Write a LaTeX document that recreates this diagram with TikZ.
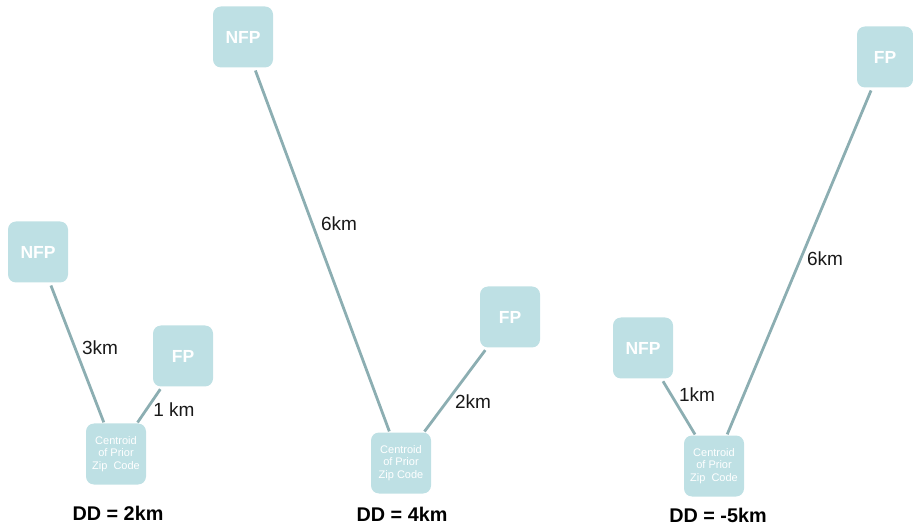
\documentclass[tikz,border=0pt]{standalone}
\usepackage{fontspec}
\setmainfont{Liberation Sans}
\usetikzlibrary{positioning}
\definecolor{boxColor}{RGB}{190,224,228}
\definecolor{linkColor}{RGB}{140,174,178}
\tikzstyle{plan} = [x = 1pt, y = -1pt]
\tikzstyle{siteBox} = [fill=boxColor, rounded corners = 8pt, minimum width = 60pt, minimum height = 61pt, inner sep = 0pt, text=white, font=\fontsize{17.5}{20}\selectfont\bfseries]
\tikzstyle{centroidBox} = [siteBox, align=center, font=\fontsize{11}{12.7}\selectfont]
\tikzstyle{linkLine} = [color=linkColor, line width = 2.8pt, shorten <= 3pt, shorten >= 1pt]
\tikzstyle{distText} = [font=\fontsize{19}{22}\selectfont, text=black!90, inner sep = 0pt]
\tikzstyle{ddText} = [font=\fontsize{19.8}{22}\selectfont\bfseries, text=black, inner sep = 0pt]

\begin{document}
\begin{tikzpicture}[plan]
  \useasboundingbox (0,0) rectangle (913,526);

  % DD = 2km
  \node [siteBox] (nfpA) at (38,252) {NFP};
  \node [siteBox] (fpA) at (183,356) {FP};
  \node [centroidBox] (cenA) at (116,454) {Centroid\\of Prior\\Zip\ \ Code};
  \draw [linkLine] (nfpA) -- (cenA);
  \draw [linkLine] (fpA) -- (cenA);
  \node [distText] (kmNfpA) at (100,348) {3km};
  \node [distText] (kmFpA) at (174,410) {1 km};
  \node [ddText] (ddA) at (118,513) {DD = 2km};

  % DD = 4km
  \node [siteBox] (nfpB) at (243,37) {NFP};
  \node [siteBox] (fpB) at (510,317) {FP};
  \node [centroidBox] (cenB) at (401,463) {Centroid\\of Prior\\Zip Code};
  \draw [linkLine] (nfpB) -- (cenB);
  \draw [linkLine] (fpB) -- (cenB);
  \node [distText] (kmNfpB) at (339,224) {6km};
  \node [distText] (kmFpB) at (473,402) {2km};
  \node [ddText] (ddB) at (402,514) {DD = 4km};

  % DD = -5km
  \node [siteBox] (nfpC) at (643,348) {NFP};
  \node [siteBox, minimum width = 56pt] (fpC) at (885,57) {FP};
  \node [centroidBox] (cenC) at (714,466) {Centroid\\of Prior\\Zip\ \ Code};
  \draw [linkLine] (nfpC) -- (cenC);
  \draw [linkLine] (fpC) -- (cenC);
  \node [distText] (kmNfpC) at (697,395) {1km};
  \node [distText] (kmFpC) at (825,259) {6km};
  \node [ddText] (ddC) at (718,515) {DD = -5km};
\end{tikzpicture}
\end{document}
